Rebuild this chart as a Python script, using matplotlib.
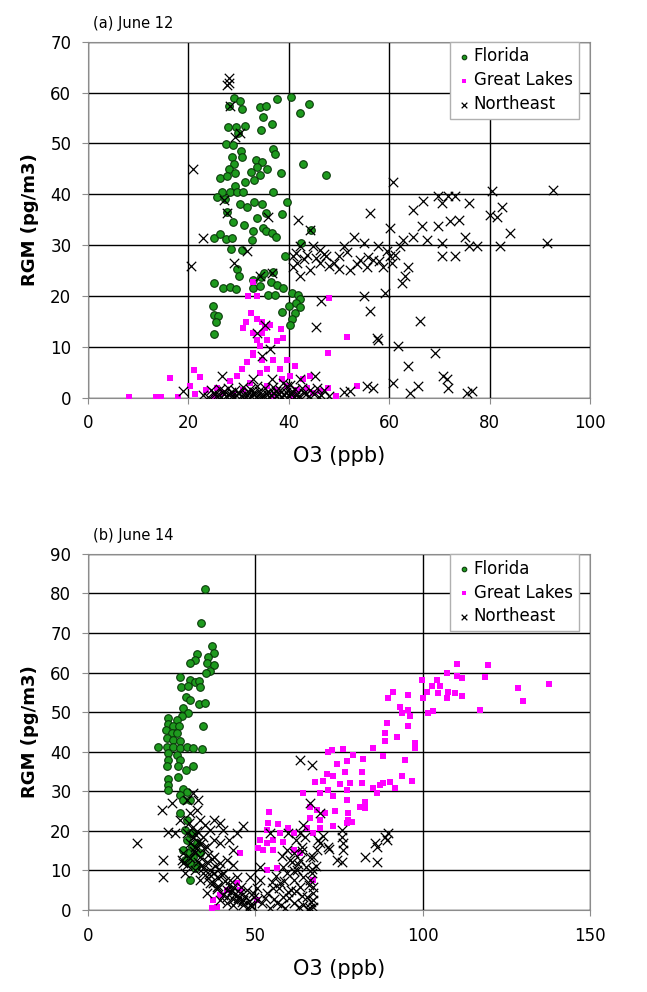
import numpy as np
import matplotlib
matplotlib.use("Agg")
import matplotlib.pyplot as plt

# ---------------- (a) June 12 ----------------
fl12_x = [29.1, 30.3, 28.1, 30.6, 34.3, 35.4, 37.6, 40.5, 44.0, 42.2, 34.8, 36.7, 27.8, 29.4, 31.2,
          34.5, 29.8, 27.5, 28.8, 30.4, 30.7, 36.9, 37.2, 28.6, 42.8, 33.4, 34.7, 29.1, 28.0, 33.6,
          32.5, 35.7, 38.4, 47.5, 26.2, 27.6, 29.2, 31.2, 33.0, 34.2, 29.2, 26.6, 28.2, 29.6, 30.9,
          36.8, 25.6, 27.2, 30.2, 33.0, 34.7, 31.6, 39.7, 38.7, 33.7, 35.4, 27.7, 28.9, 31.1, 34.9,
          35.5, 36.6, 37.5, 32.9, 25.0, 26.3, 27.4, 28.7, 32.7, 28.4, 30.6, 39.2, 42.4, 44.5, 29.6,
          30.0, 34.5, 36.5, 37.7, 38.9, 25.1, 26.8, 28.2, 29.5, 32.8, 35.9, 37.2, 40.6, 41.8, 42.2,
          24.9, 25.0, 25.9, 25.4, 25.0, 38.6, 40.1, 41.4, 41.2, 40.6, 40.2, 42.2, 32.9, 34.3, 36.9, 35.1]
fl12_y = [58.9, 58.4, 57.4, 56.7, 57.1, 57.4, 58.8, 59.2, 57.8, 56.0, 55.1, 53.9, 53.2, 53.2, 53.4,
          52.6, 52.1, 49.8, 49.6, 48.6, 47.4, 49.0, 47.9, 47.3, 45.9, 46.7, 46.3, 45.9, 44.9, 45.3,
          44.4, 45.0, 44.1, 43.8, 43.2, 43.6, 44.1, 42.5, 42.8, 43.8, 41.7, 40.4, 40.5, 40.5, 40.4,
          40.5, 39.4, 39.1, 38.1, 38.5, 38.0, 37.6, 38.5, 36.2, 35.3, 36.3, 36.6, 34.5, 33.9, 33.4,
          32.8, 32.4, 31.7, 32.7, 31.4, 32.2, 31.3, 31.4, 31.1, 29.3, 29.1, 27.9, 30.4, 33.0, 25.3,
          24.0, 23.7, 22.8, 22.2, 21.6, 22.5, 21.6, 21.8, 21.4, 21.5, 20.3, 20.3, 20.6, 20.3, 19.4,
          18.1, 16.3, 16.0, 14.8, 12.6, 16.9, 18.1, 18.6, 16.7, 15.5, 14.4, 17.9, 23.2, 21.9, 24.7, 24.5]

gl12_x = [8.2, 13.5, 14.5, 18.0, 16.4, 21.1, 22.4, 20.3, 21.4, 23.5, 25.6, 26.9, 28.2, 29.6, 30.7,
          31.6, 32.9, 34.3, 35.6, 33.6, 32.9, 34.6, 35.3, 36.3, 38.4, 38.9, 37.6, 30.9, 31.5, 32.4,
          33.6, 34.7, 31.9, 33.6, 32.9, 48.1, 51.5, 47.8, 53.5, 49.4, 47.9, 46.2, 39.6, 41.2, 40.3,
          38.6, 36.9, 35.6, 34.3, 38.2, 42.9, 44.2, 43.6, 44.9, 41.6, 39.6, 37.6, 35.6, 32.3, 30.9,
          28.9, 25.0, 36.9, 40.9, 32.9, 34.6]
gl12_y = [0.1, 0.1, 0.1, 0.1, 3.8, 5.4, 4.1, 2.3, 0.7, 1.6, 2.0, 1.0, 3.3, 4.3, 5.7,
          7.0, 8.5, 10.1, 11.4, 11.4, 12.8, 12.8, 13.7, 14.4, 13.5, 11.8, 11.1, 13.7, 14.8, 16.7,
          15.5, 14.8, 20.1, 20.1, 22.8, 19.6, 12.0, 8.8, 2.3, 0.3, 2.0, 1.3, 7.4, 6.2, 4.3,
          3.6, 7.5, 5.7, 4.9, 5.7, 3.6, 4.3, 2.0, 1.0, 1.6, 2.3, 1.6, 2.3, 2.9, 1.6,
          0.7, 0.2, 0.3, 0.3, 8.8, 7.5]

ne12_x = [28.0, 28.0, 27.6, 28.3, 29.3, 30.3, 21.0, 27.0, 27.6, 35.9, 23.0, 20.5, 29.0, 31.6, 34.3,
          36.6, 41.9, 44.2, 42.2, 40.9, 41.6, 43.6, 44.9, 46.2, 40.9, 42.2, 44.2, 46.2, 47.5, 48.9,
          49.9, 50.9, 52.2, 52.9, 54.2, 54.9, 55.5, 56.8, 57.8, 58.8, 60.2, 60.5, 60.2, 62.2, 62.8,
          63.8, 63.2, 62.5, 64.8, 66.5, 67.5, 64.8, 66.8, 69.8, 70.5, 71.8, 73.1, 75.8, 69.8, 72.1,
          73.8, 75.1, 70.5, 70.5, 73.1, 75.8, 77.4, 80.4, 80.1, 81.4, 82.4, 82.1, 84.1, 91.4, 92.7,
          60.8, 56.2, 46.5, 54.9, 59.2, 56.2, 45.4, 57.5, 57.8, 66.1, 61.8, 69.1, 63.8, 70.8, 71.5,
          71.8, 75.4, 76.4, 65.8, 64.1, 60.8, 56.8, 55.5, 50.9, 52.2, 45.2, 26.6, 19.0, 33.6, 35.3,
          36.3, 34.6, 32.9, 36.6, 42.2,
          41.5, 43.0, 45.5, 47.0, 48.0, 50.0, 51.5, 53.5, 55.8, 58.0, 59.5, 61.2, 38.8, 40.2,
          23.0, 24.0, 25.0, 25.5, 26.0, 26.5, 27.0, 27.5, 28.0, 28.5, 29.0, 29.5, 30.0, 30.5, 31.0,
          31.5, 32.0, 32.5, 33.0, 33.5, 34.0, 34.5, 35.0, 35.5, 36.0, 36.5, 37.0, 37.5, 38.0, 38.5,
          39.0, 39.5, 40.0, 40.5, 41.0, 41.5, 42.0, 43.0, 44.0, 45.0, 46.0, 47.0, 48.0,
          24.5, 26.2, 27.8, 29.3, 30.8, 32.2, 33.7, 35.2, 36.8, 38.2, 39.7, 41.2, 42.7, 44.3, 45.7,
          25.3, 27.0, 28.6, 30.1, 31.6, 33.0, 34.5, 36.0, 37.5, 39.0, 40.5, 42.0, 43.5, 46.5]
ne12_y = [62.8, 61.9, 61.5, 57.4, 51.3, 52.0, 44.9, 38.9, 36.3, 35.6, 31.4, 26.0, 26.5, 28.8, 24.0,
          24.5, 34.9, 33.0, 29.8, 27.8, 26.5, 28.1, 29.8, 29.1, 25.8, 23.9, 25.2, 26.5, 27.8, 26.5,
          27.8, 29.8, 25.2, 31.7, 27.1, 30.4, 25.8, 27.1, 29.8, 25.8, 27.8, 26.5, 33.4, 29.8, 31.1,
          25.8, 23.9, 22.6, 31.7, 33.7, 31.1, 36.9, 38.6, 39.6, 38.3, 39.6, 39.6, 38.3, 33.7, 34.7,
          35.0, 31.7, 30.4, 27.8, 27.8, 29.8, 29.8, 40.6, 36.0, 35.6, 37.6, 29.8, 32.4, 30.4, 40.9,
          42.5, 36.4, 19.0, 20.0, 20.6, 17.0, 13.9, 11.8, 11.4, 15.0, 10.1, 8.8, 6.2, 4.3, 3.6,
          2.0, 1.0, 1.3, 2.3, 1.0, 2.9, 2.0, 2.3, 1.1, 1.3, 4.3, 4.3, 1.3, 12.8, 14.4,
          9.5, 8.3, 3.6, 3.6, 3.6,
          28.5, 27.2, 27.5, 28.2, 26.0, 25.4, 28.6, 26.3, 27.6, 26.8, 28.9, 28.0, 3.0, 2.6,
          0.5, 0.2, 1.0, 0.3, 0.6, 0.1, 0.8, 0.3, 0.5, 1.2, 0.2, 0.6, 0.9, 0.3, 0.5,
          0.1, 1.1, 0.4, 0.7, 0.2, 1.4, 0.5, 0.3, 0.9, 0.2, 0.6, 1.0, 0.3, 0.7, 0.1,
          0.5, 1.2, 0.3, 0.8, 0.2, 0.6, 0.4, 0.9, 0.3, 0.7, 0.2, 1.5, 0.4,
          1.5, 1.8, 2.0, 1.6, 2.2, 1.7, 2.4, 1.9, 2.1, 1.6, 2.3, 1.8, 2.0, 1.5, 1.9,
          0.8, 1.3, 0.4, 1.0, 0.6, 1.2, 0.2, 0.9, 1.4, 0.5, 1.1, 0.3, 0.7, 0.6]

# ---------------- (b) June 14 ----------------
fl14_x = [35.1, 33.7, 37.0, 37.5, 32.5, 32.0, 35.9, 35.7, 37.5, 30.5, 36.6, 35.2, 27.5, 27.7, 30.5,
          32.0, 33.3, 29.9, 33.5, 29.3, 30.5, 33.3, 35.0, 28.5, 30.0, 28.0, 24.0, 26.5, 24.0, 25.5,
          27.3, 34.3, 23.3, 25.0, 26.5, 23.7, 25.5, 27.5, 21.0, 23.5, 25.5, 27.5, 29.5, 31.5, 34.2,
          24.0, 26.5, 24.0, 27.5, 23.7, 26.9, 31.5, 29.3, 26.9, 24.0, 24.0, 24.0, 28.5, 29.5, 27.5,
          28.5, 30.5, 27.5, 29.5, 28.9, 30.5, 29.5, 31.0, 30.0, 31.5, 30.5, 32.5, 30.5, 32.0, 31.5,
          32.5, 33.5, 28.5, 28.9]
fl14_y = [81.1, 72.5, 66.6, 65.0, 64.8, 63.2, 64.0, 62.4, 62.0, 62.4, 60.5, 59.9, 58.9, 56.4, 58.2,
          57.5, 57.8, 56.5, 56.4, 53.9, 53.1, 52.1, 52.4, 51.1, 49.7, 48.9, 48.5, 48.1, 47.0, 46.4,
          46.4, 46.4, 45.5, 44.7, 44.7, 43.4, 43.0, 42.6, 41.3, 41.1, 41.1, 40.9, 41.3, 40.9, 40.6,
          39.6, 39.2, 37.9, 37.9, 36.4, 36.3, 36.3, 35.4, 33.7, 33.1, 31.6, 30.4, 30.5, 29.9, 29.1,
          27.8, 27.8, 24.5, 22.8, 20.2, 19.4, 17.7, 16.0, 14.3, 13.5, 11.8, 11.4, 7.6, 10.5, 19.4,
          16.9, 14.3, 15.2, 12.6]

gl14_x = [110.2, 119.6, 107.2, 110.2, 111.6, 118.6, 99.7, 104.2, 102.7, 105.2, 107.7, 109.7, 111.6,
          107.2, 101.2, 104.7, 100.2, 137.6, 128.6, 130.1, 117.1, 101.7, 103.2, 91.2, 95.7, 89.7,
          93.2, 95.7, 96.2, 93.7, 89.2, 95.7, 88.7, 92.2, 88.7, 97.7, 97.7, 85.2, 88.2, 94.7, 71.8,
          72.8, 76.3, 79.3, 82.3, 77.3, 74.3, 76.8, 71.3, 73.3, 81.8, 67.8, 70.3, 75.3, 78.3, 81.8,
          88.2, 90.2, 93.7, 96.7, 91.7, 85.2, 86.2, 87.2, 64.3, 69.3, 71.8, 73.3, 77.3, 77.3, 82.8,
          82.8, 81.3, 66.3, 68.3, 70.8, 73.8, 77.8, 77.8, 78.8, 66.3, 69.3, 73.3, 77.3, 65.3, 69.3,
          67.3, 54.1, 53.9, 56.9, 59.9, 53.4, 57.4, 61.4, 51.4, 53.4, 55.4, 58.4, 50.9, 52.4, 55.4,
          53.4, 56.4, 45.4, 44.4, 45.4, 50.4, 39.4, 41.4, 37.4, 38.4, 36.9, 67.3, 61.4, 63.4]
gl14_y = [62.2, 61.8, 59.9, 59.0, 58.6, 58.8, 58.2, 58.2, 56.7, 56.5, 55.2, 54.8, 54.0,
          53.5, 55.0, 54.8, 53.5, 57.2, 56.2, 52.7, 50.6, 49.8, 50.2, 55.0, 54.2, 53.5,
          51.4, 50.6, 48.9, 49.8, 47.2, 46.4, 44.7, 43.8, 42.6, 42.2, 40.9, 40.9, 38.8, 37.9, 40.0,
          40.5, 40.6, 39.2, 38.2, 37.6, 36.8, 34.9, 34.3, 33.9, 34.8, 32.4, 32.6, 31.8, 32.2, 32.2,
          32.2, 32.4, 33.8, 32.5, 30.7, 30.7, 29.5, 31.6, 29.5, 29.5, 30.4, 28.7, 30.4, 27.8, 27.4,
          25.7, 26.1, 26.1, 25.3, 24.5, 24.9, 24.5, 22.8, 22.3, 23.2, 22.8, 21.1, 21.9, 20.7, 20.7,
          19.4, 24.7, 22.0, 21.6, 20.8, 20.1, 19.4, 19.4, 17.7, 16.9, 17.7, 17.3, 15.6, 15.2, 15.2,
          10.1, 10.5, 14.3, 6.7, 5.1, 2.5, 3.8, 5.1, 2.5, 0.8, 0.4, 7.6, 15.2, 14.3]

ne14_x = [63.3, 66.8, 14.7, 22.0, 25.0, 24.0, 26.0, 22.5, 22.5, 27.5, 29.5, 31.5, 32.9, 32.5, 30.5,
          33.5, 35.0, 36.5, 37.5, 39.4, 40.4, 46.4, 29.5, 31.5, 32.9, 30.5, 32.0, 34.4, 35.5, 37.5,
          39.4, 42.0, 43.4, 28.5, 30.5, 33.5, 35.5, 37.5, 39.4, 41.4, 43.4, 28.0, 29.5, 32.0, 34.4,
          36.5, 38.4, 40.4, 42.4, 44.4, 36.5, 38.4, 41.4, 43.4, 45.4, 47.4, 44.9, 46.4, 35.5, 39.4,
          41.4, 43.4, 48.4, 50.4, 51.4, 50.4, 53.4, 55.4, 57.4, 58.4, 59.9, 56.4, 54.4, 61.4, 62.9,
          64.3, 66.3, 67.3, 67.3, 67.3, 67.3, 65.3, 63.4, 61.4, 59.4, 62.4, 64.3, 66.3, 58.4, 60.4,
          63.4, 66.3, 61.4, 59.4, 63.9, 68.3, 69.3, 71.8, 67.3, 63.4, 64.3, 69.3, 66.3, 59.9, 54.4,
          75.8, 75.8, 76.3, 76.3, 74.3, 75.8, 82.8, 85.8, 86.3, 86.3, 88.7, 89.7, 89.2, 44.4, 51.4,
          48.4, 49.4, 37.5, 33.5, 34.0, 32.0, 29.0, 28.5,
          31.0, 32.2, 33.8, 34.8, 36.0, 37.0, 38.0, 39.0, 40.0, 41.0, 42.0, 43.0, 44.0, 45.0, 46.0,
          47.0, 48.0, 49.0, 33.0, 34.5, 35.8, 37.2, 38.6, 40.2, 41.6, 43.2, 44.6, 46.2, 47.8, 30.2,
          31.6, 32.6, 36.2, 38.8, 42.6, 45.6, 49.6, 52.0,
          55.6, 57.0, 58.6, 60.2, 61.6, 62.6, 63.8, 65.0, 66.0, 67.0, 68.0, 56.2, 57.8, 60.8, 62.0,
          64.8, 66.6, 53.0, 55.0, 58.0, 61.0, 64.0, 65.6, 68.6, 70.2, 72.0, 58.8, 62.2, 66.8]
ne14_y = [37.9, 36.7, 16.9, 25.3, 27.0, 19.8, 19.4, 12.6, 8.4, 22.8, 27.8, 29.5, 27.8, 25.3, 24.5,
          22.8, 21.5, 20.2, 22.8, 21.9, 20.2, 21.1, 19.4, 18.5, 17.3, 16.9, 16.0, 18.5, 16.0, 17.7,
          16.9, 17.7, 15.2, 14.3, 13.1, 13.5, 12.2, 13.5, 11.8, 12.6, 11.4, 12.6, 11.4, 10.1, 9.3,
          10.1, 8.4, 9.3, 7.6, 8.4, 6.7, 5.9, 5.1, 5.9, 4.2, 5.1, 3.0, 2.5, 4.2, 2.5,
          1.7, 1.3, 1.3, 2.5, 7.6, 5.5, 4.2, 5.5, 6.7, 3.4, 4.6, 1.7, 0.4, 1.7, 0.8,
          1.3, 0.4, 0.8, 2.5, 4.2, 5.9, 3.4, 5.9, 7.6, 9.3, 10.1, 8.4, 7.6, 10.9, 12.6,
          12.6, 13.5, 14.3, 15.2, 16.0, 15.2, 16.9, 16.0, 13.5, 19.4, 21.5, 24.5, 27.0, 19.4, 19.4,
          20.2, 18.5, 16.9, 15.2, 12.6, 12.2, 13.5, 16.9, 16.0, 12.2, 18.5, 19.4, 17.7, 19.4, 10.9,
          8.4, 4.2, 9.3, 7.6, 11.4, 14.7, 9.3, 11.8,
          20.8, 19.0, 17.0, 15.6, 14.0, 12.8, 11.0, 10.4, 8.8, 7.2, 6.4, 5.0, 4.0, 3.4, 2.0,
          3.6, 2.2, 1.0, 12.0, 10.6, 8.2, 6.8, 5.2, 3.8, 3.2, 2.8, 2.2, 1.2, 0.6, 22.0,
          15.0, 20.0, 9.0, 6.0, 4.6, 5.8, 3.2, 1.8,
          2.8, 5.6, 7.4, 3.0, 9.8, 11.6, 3.6, 10.8, 6.2, 9.4, 11.2, 8.6, 1.2, 5.0, 17.6,
          18.4, 2.0, 3.0, 7.0, 13.6, 12.0, 15.0, 0.2, 17.8, 18.8, 15.4, 0.4, 4.8, 10.4]

panels = [
    ("(a) June 12", fl12_x, fl12_y, gl12_x, gl12_y, ne12_x, ne12_y, 100, 20, 70),
    ("(b) June 14", fl14_x, fl14_y, gl14_x, gl14_y, ne14_x, ne14_y, 150, 50, 90),
]
positions = [[0.136, 0.599, 0.776, 0.359], [0.136, 0.0827, 0.776, 0.359]]

fig = plt.figure(figsize=(6.47, 9.92), dpi=100)
for (title, fx, fy, gx, gy, nx, ny, xmax, xstep, ymax), pos in zip(panels, positions):
    ax = fig.add_axes(pos)
    ax.scatter(fx, fy, s=30, marker="o", facecolor="#1e9a1e", edgecolor="#0a3a0a",
               linewidth=0.8, label="Florida", zorder=3)
    ax.scatter(gx, gy, s=22, marker="s", color="#ff00ff", linewidth=0, label="Great Lakes", zorder=3)
    ax.scatter(nx, ny, s=46, marker="x", color="black", linewidth=0.9, label="Northeast", zorder=4)

    ax.set_xlim(0, xmax)
    ax.set_ylim(0, ymax)
    ax.set_xticks(np.arange(0, xmax + 1, xstep))
    ax.set_yticks(np.arange(0, ymax + 1, 10))
    ax.grid(True, color="black", linewidth=1.0, zorder=0)
    ax.set_axisbelow(True)
    for side in ["top", "right", "left", "bottom"]:
        ax.spines[side].set_color("#8c8c8c")
    ax.tick_params(axis="both", labelsize=12, length=4, color="#8c8c8c", pad=8)
    ax.set_ylabel("RGM (pg/m3)", fontsize=13, fontweight="bold", labelpad=8)
    ax.set_xlabel("O3 (ppb)", fontsize=15, labelpad=10)
    ax.text(0.01, 1.03, title, transform=ax.transAxes, fontsize=10.5, va="bottom", ha="left")
    leg = ax.legend(loc="upper right", bbox_to_anchor=(0.977, 1.0), fontsize=12,
                    frameon=True, fancybox=False, framealpha=1, edgecolor="#b0b0b0",
                    handletextpad=0.1, borderpad=0.35, labelspacing=0.35,
                    markerscale=0.6, handlelength=1.0, borderaxespad=0.0)
    leg.get_frame().set_linewidth(1.0)

fig.savefig("out.png", dpi=100)
